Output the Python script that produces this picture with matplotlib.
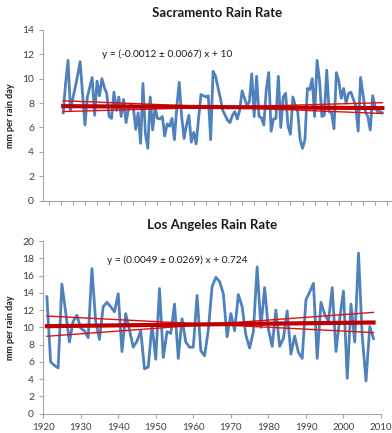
import numpy as np
import matplotlib
matplotlib.use('Agg')
import matplotlib.pyplot as plt

plt.rcParams['font.family'] = ['Lato', 'DejaVu Sans']

# Sacramento rain rate, 1876-2008 (mm per rain day)
sac_start = 1876
sac_rate = [7.2, 9.6, 11.5, 7.4, 8.4, 9.3, 10.3, 11.4, 8.8, 6.2,
            8.5, 9.3, 10.1, 7.0, 9.8, 8.6, 10.0, 9.3, 8.8, 6.9,
            6.75, 8.9, 7.4, 8.5, 6.9, 8.3, 6.4, 7.5, 7.9, 7.7,
            5.85, 7.2, 4.7, 9.6, 5.5, 4.3, 8.5, 5.8, 7.6, 6.75,
            6.7, 6.9, 5.3, 6.3, 6.1, 6.75, 5.0, 7.7, 9.7, 6.9,
            5.1, 6.2, 7.0, 4.8, 5.6, 4.65, 6.75, 8.7, 8.6, 8.5,
            8.6, 5.0, 10.6, 10.2, 9.3, 8.4, 7.4, 7.0, 6.6, 6.4,
            7.0, 7.3, 6.7, 7.4, 9.0, 8.4, 7.8, 8.1, 10.4, 6.9,
            10.2, 6.9, 6.8, 6.2, 9.1, 10.5, 5.7, 6.7, 6.75, 10.2,
            6.0, 8.5, 8.8, 6.1, 5.45, 8.5, 7.8, 7.3, 5.0, 4.3,
            5.0, 9.2, 9.1, 10.0, 6.9, 11.5, 9.9, 6.9, 7.0, 10.7,
            7.3, 7.2, 5.9, 10.5, 9.8, 8.4, 9.2, 8.0, 8.8, 8.9,
            8.3, 7.8, 5.7, 10.1, 8.7, 7.3, 6.9, 5.8, 8.6, 7.7,
            7.3, 7.3, 7.2]
sac_slope, sac_err, sac_icpt = -0.0012, 0.0067, 10.0

# Los Angeles rain rate, 1921-2008 (mm per rain day)
la_start = 1921
la_rate = [13.55, 6.0, 5.6, 5.3, 15.0, 11.8, 8.3, 10.7, 11.4, 9.9,
           9.6, 8.8, 16.8, 10.7, 8.6, 12.4, 12.9, 12.4, 11.8, 13.9,
           7.2, 11.6, 9.7, 7.7, 8.4, 9.6, 5.2, 5.4, 10.3, 6.3,
           14.5, 6.5, 9.5, 9.3, 12.7, 6.4, 11.0, 8.3, 7.7, 7.7,
           13.7, 7.3, 6.7, 9.7, 14.7, 15.8, 15.3, 13.9, 8.9, 11.6,
           9.6, 13.8, 12.4, 9.1, 7.6, 9.5, 17.0, 10.0, 14.6, 9.8,
           7.8, 12.0, 7.8, 8.7, 11.9, 6.9, 9.0, 7.1, 6.4, 13.2,
           14.1, 15.1, 6.4, 12.9, 11.5, 10.7, 14.6, 7.2, 11.0, 14.2,
           4.1, 12.7, 8.3, 18.6, 8.9, 3.8, 10.1, 8.7]
la_slope, la_err, la_icpt = 0.0049, 0.0269, 0.724

BLUE = '#4f81bd'
RED = '#c00000'
GREY = '#404040'


def panel(ax, start, rate, slope, err, icpt, title, eq, ymax, eq_xy):
    years = np.arange(start, start + len(rate))
    ax.plot(years, rate, color=BLUE, lw=2.0, zorder=2)
    xm = years.mean()
    ym = slope * xm + icpt
    for s in (slope - err, slope + err):
        ax.plot(years[[0, -1]], ym + s * (years[[0, -1]] - xm), color='#e01010', lw=1.0, zorder=3)
    ax.plot(years[[0, -1]], slope * years[[0, -1]] + icpt, color=RED, lw=3.0, zorder=4)
    ax.set_ylim(0, ymax)
    ax.set_yticks(np.arange(0, ymax + 1, 2))
    ax.set_title(title, fontsize=9.5, fontweight='bold', color='#1a1a1a', pad=9)
    ax.set_ylabel('mm per rain day', fontsize=6.5, fontweight='bold', color='#1a1a1a', labelpad=5)
    ax.text(eq_xy[0], eq_xy[1], eq, transform=ax.transAxes, fontsize=7.3, color='#1a1a1a')
    for s in ('top', 'right'):
        ax.spines[s].set_visible(False)
    for s in ('left', 'bottom'):
        ax.spines[s].set_color('#a6a6a6')
        ax.spines[s].set_linewidth(0.8)
    ax.tick_params(colors='#a6a6a6', labelcolor=GREY, labelsize=7.5, length=3, width=0.8)


fig = plt.figure(figsize=(3.92, 4.33), dpi=100)
ax1 = fig.add_axes([0.110, 0.5365, 0.890, 0.3945])
ax2 = fig.add_axes([0.110, 0.0446, 0.862, 0.3988])

panel(ax1, sac_start, sac_rate, sac_slope, sac_err, sac_icpt, 'Sacramento Rain Rate',
      'y = (-0.0012 \u00b1 0.0067) x + 10', 14, (0.17, 0.84))
ax1.set_xlim(1867.7, 2012)
ax1.set_xticks(np.arange(1870, 2012, 5))
ax1.tick_params(axis='x', labelbottom=False)

panel(ax2, la_start, la_rate, la_slope, la_err, la_icpt, 'Los Angeles Rain Rate',
      'y = (0.0049 \u00b1 0.0269) x + 0.724', 20, (0.19, 0.87))
ax2.set_xlim(1920, 2010)
ax2.set_xticks(np.arange(1920, 2011, 10))
ax2.tick_params(axis='x', labelsize=7)

fig.savefig('out.png', dpi=100)
